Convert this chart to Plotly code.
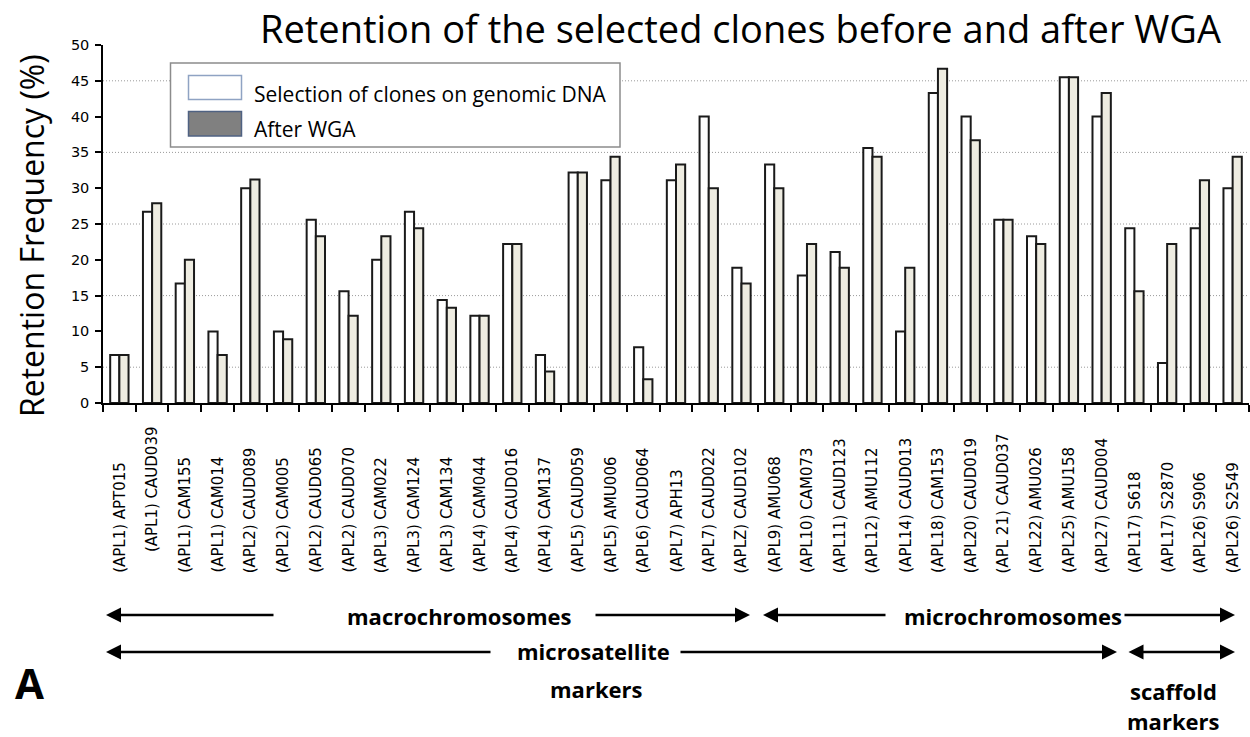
import plotly.graph_objects as go

# ---------------- data ----------------
markers = [
    "(APL1) APT015", "(APL1) CAUD039", "(APL1) CAM155", "(APL1) CAM014",
    "(APL2) CAUD089", "(APL2) CAM005", "(APL2) CAUD065", "(APL2) CAUD070",
    "(APL3) CAM022", "(APL3) CAM124", "(APL3) CAM134", "(APL4) CAM044",
    "(APL4) CAUD016", "(APL4) CAM137", "(APL5) CAUD059", "(APL5) AMU006",
    "(APL6) CAUD064", "(APL7) APH13", "(APL7) CAUD022", "(APLZ) CAUD102",
    "(APL9) AMU068", "(APL10) CAM073", "(APL11) CAUD123", "(APL12) AMU112",
    "(APL14) CAUD013", "(APL18) CAM153", "(APL20) CAUD019", "(APL 21) CAUD037",
    "(APL22) AMU026", "(APL25) AMU158", "(APL27) CAUD004", "(APL17) S618",
    "(APL17) S2870", "(APL26) S906", "(APL26) S2549",
]
genomic_dna = [
    6.7, 26.7, 16.7, 10.0, 30.0, 10.0, 25.6, 15.6, 20.0, 26.7,
    14.4, 12.2, 22.2, 6.7, 32.2, 31.1, 7.8, 31.1, 40.0, 18.9,
    33.3, 17.8, 21.1, 35.6, 10.0, 43.3, 40.0, 25.6, 23.3, 45.5,
    40.0, 24.4, 5.6, 24.4, 30.0,
]
after_wga = [
    6.7, 27.9, 20.0, 6.7, 31.2, 8.9, 23.3, 12.2, 23.3, 24.4,
    13.3, 12.2, 22.2, 4.4, 32.2, 34.4, 3.3, 33.3, 30.0, 16.7,
    30.0, 22.2, 18.9, 34.4, 18.9, 46.7, 36.7, 25.6, 22.2, 45.5,
    43.3, 15.6, 22.2, 31.1, 34.4,
]
y_ticks = [0, 5, 10, 15, 20, 25, 30, 35, 40, 45, 50]
grid_values = [5, 15, 25, 35, 45]
series_names = ["Selection of clones on genomic DNA", "After WGA"]
title_text = "Retention of the selected clones before and after WGA"
y_title = "Retention Frequency (%)"

# ---------------- layout geometry (pixels) ----------------
W, H = 1250, 737
L, R, T, B = 103, 1, 45, 334
PW, PH = W - L - R, H - T - B


def px(x):
    return (x - L) / PW


def py(y):
    return (H - B - y) / PH


label_raise = {"(APL1) CAUD039": 21}

fig = go.Figure()
fig.add_trace(go.Bar(
    x=markers, y=genomic_dna, name=series_names[0],
    marker=dict(color="#FFFFFF", line=dict(color="#1A1A1A", width=2)),
    showlegend=False,
))
fig.add_trace(go.Bar(
    x=markers, y=after_wga, name=series_names[1],
    marker=dict(color="#EEECE1", line=dict(color="#1A1A1A", width=2)),
    showlegend=False,
))

shapes = []
# dotted grid lines
for g in grid_values:
    shapes.append(dict(type="line", xref="paper", yref="y", x0=0, x1=1, y0=g, y1=g,
                       line=dict(color="#9A9A9A", width=1, dash="1px,2px"), layer="below"))

# legend box
shapes.append(dict(type="rect", xref="paper", yref="paper",
                   x0=px(170.5), x1=px(620), y0=py(63), y1=py(147),
                   fillcolor="#FFFFFF", line=dict(color="#8C8C8C", width=1.5), layer="above"))
shapes.append(dict(type="rect", xref="paper", yref="paper",
                   x0=px(188.5), x1=px(241.5), y0=py(75.5), y1=py(99.5),
                   fillcolor="#FFFFFF", line=dict(color="#8FA3C3", width=1.5), layer="above"))
shapes.append(dict(type="rect", xref="paper", yref="paper",
                   x0=px(188.5), x1=px(241.5), y0=py(111.5), y1=py(136),
                   fillcolor="#808080", line=dict(color="#4F6282", width=1.5), layer="above"))

annotations = []
# legend texts
annotations.append(dict(xref="paper", yref="paper", x=px(252), y=py(94), xanchor="left",
                        yanchor="middle", text=series_names[0], showarrow=False,
                        font=dict(family="Open Sans", size=21, color="#000000")))
annotations.append(dict(xref="paper", yref="paper", x=px(252), y=py(129), xanchor="left",
                        yanchor="middle", text=series_names[1], showarrow=False,
                        font=dict(family="Open Sans", size=21, color="#000000")))

# title
annotations.append(dict(xref="paper", yref="paper", x=px(740), y=py(28), xanchor="center",
                        yanchor="middle", text=title_text, showarrow=False,
                        font=dict(family="Open Sans", size=38, color="#000000")))
# y title
annotations.append(dict(xref="paper", yref="paper", x=px(31), y=py(236), xanchor="center",
                        yanchor="middle", text=y_title, textangle=-90, showarrow=False,
                        font=dict(family="Open Sans", size=32, color="#000000")))

# category labels (bottom aligned, rotated)
for m in markers:
    annotations.append(dict(xref="x", yref="paper", x=m, y=py(575 - label_raise.get(m, 0)),
                            xanchor="center", yanchor="bottom", text=m, textangle=-90,
                            showarrow=False,
                            font=dict(family="DejaVu Sans", size=15, color="#000000")))

# group texts
bold = dict(family="Open Sans", size=22, color="#000000", weight="bold")
for txt, cx, cy in [("macrochromosomes", 459.5, 616), ("microchromosomes", 1013, 616),
                    ("microsatellite", 593, 651), ("markers", 596, 689),
                    ("scaffold", 1173, 691), ("markers", 1173, 721)]:
    annotations.append(dict(xref="paper", yref="paper", x=px(cx), y=py(cy), xanchor="center",
                            yanchor="middle", text=txt, showarrow=False, font=bold))
annotations.append(dict(xref="paper", yref="paper", x=px(29), y=py(682), xanchor="center",
                        yanchor="middle", text="A", showarrow=False,
                        font=dict(family="Open Sans", size=42, color="#000000", weight="bold")))

# arrows: (head_x, tail_x, y, side)
arrows = [
    (106, 275, 615, "end"), (750, 594, 615, "end"), (763, 887, 615, "end"),
    (1235, 1123, 615, "end"), (106, 492, 652, "end"), (1117, 679, 652, "end"),
    (1235, 1127, 652, "end+start"),
]
for hx, tx, yy, side in arrows:
    annotations.append(dict(xref="paper", yref="paper", axref="pixel", ayref="pixel",
                            x=px(hx), y=py(yy), ax=tx - hx, ay=0, text="",
                            showarrow=True, arrowhead=2, startarrowhead=2, arrowside=side,
                            arrowwidth=2.5, arrowsize=1.2, startarrowsize=1.2,
                            arrowcolor="#000000"))

fig.update_layout(
    width=W, height=H,
    margin=dict(l=L, r=R, t=T, b=B, pad=0),
    paper_bgcolor="#FFFFFF", plot_bgcolor="#FFFFFF",
    barmode="group", bargap=0.44, bargroupgap=0,
    shapes=shapes, annotations=annotations,
    showlegend=False,
    xaxis=dict(type="category", showticklabels=False, ticks="outside", tickson="boundaries",
               ticklen=7, tickwidth=1.5, tickcolor="#000000", showline=True,
               linecolor="#000000", linewidth=1.5, showgrid=False, zeroline=False,
               range=[-0.5, len(markers) - 0.5]),
    yaxis=dict(range=[0, 50], tickvals=y_ticks, ticks="outside", ticklen=6, tickwidth=1.5,
               tickcolor="#000000", showline=True, linecolor="#000000", linewidth=1.5,
               showgrid=False, zeroline=False, ticklabelstandoff=3,
               tickfont=dict(family="DejaVu Sans", size=14.5, color="#000000")),
)

fig.write_html(
    "out.html",
    config={"displayModeBar": False},
    post_script="document.body.style.margin='0';document.body.style.overflow='hidden';",
)
